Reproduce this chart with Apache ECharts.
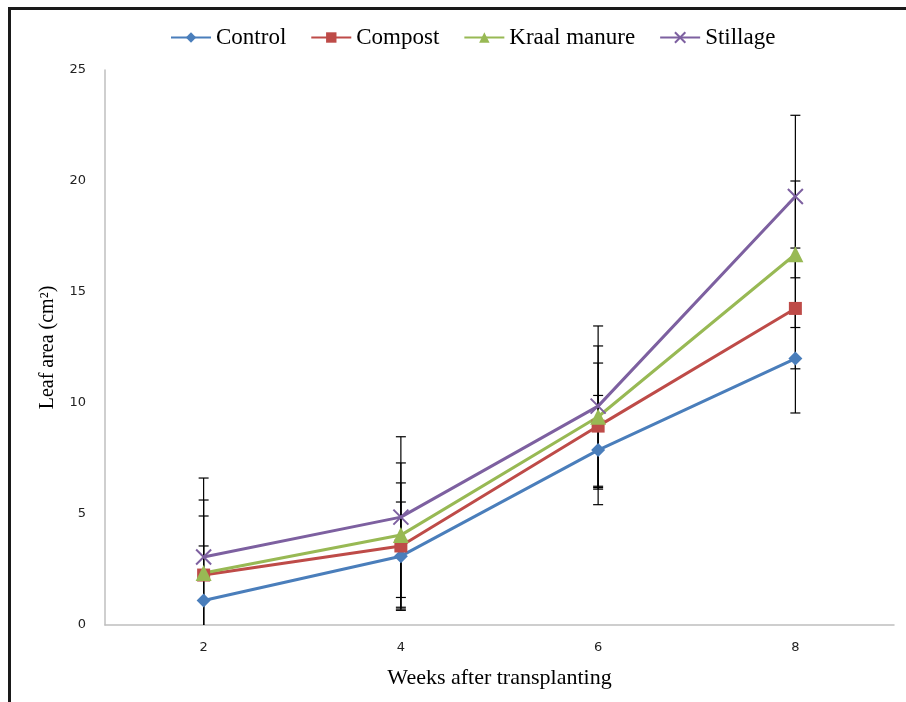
<!DOCTYPE html>
<html>
<head>
<meta charset="utf-8">
<script src="https://cdn.jsdelivr.net/npm/echarts@6/dist/echarts.min.js"></script>
<style>html,body{margin:0;padding:0;background:#fff;}#chart{width:906px;height:702px;}</style>
</head>
<body>
<div id="chart"></div>
<script>
var weeks = ['2', '4', '6', '8'];
var seriesNames = ['Control', 'Compost', 'Kraal manure', 'Stillage'];
var control = [1.1, 3.1, 7.88, 12.0];
var compost = [2.25, 3.56, 8.96, 14.26];
var kraal = [2.34, 4.05, 9.38, 16.7];
var stillage = [3.06, 4.86, 9.86, 19.3];
var controlErr = [2.46, 2.44, 2.46, 2.45];
var compostErr = [2.66, 2.84, 2.84, 2.72];
var kraalErr = [3.29, 3.25, 3.19, 3.3];
var stillageErr = [3.56, 3.62, 3.61, 3.66];
var yTicks = [0, 5, 10, 15, 20, 25];

var colors = ['#4A7EBB', '#BE4B48', '#98B954', '#7D60A0'];
var symbols = ['diamond', 'rect', 'triangle', 'path://M0,0 L10,10 M10,0 L0,10'];
var symbolSizes = [14, 13, 16, 15];
var means = [control, compost, kraal, stillage];
var errs = [controlErr, compostErr, kraalErr, stillageErr];

var YMIN = yTicks[0], YMAX = yTicks[yTicks.length - 1];

function errRender(params, api) {
  var x = api.value(0), lo = api.value(1), hi = api.value(2);
  var loC = Math.max(lo, YMIN), hiC = Math.min(hi, YMAX);
  var pHi = api.coord([x, hiC]);
  var pLo = api.coord([x, loC]);
  var cap = 5;
  var children = [{
    type: 'line', shape: {x1: pHi[0], y1: pHi[1], x2: pLo[0], y2: pLo[1]},
    style: {stroke: '#000', lineWidth: 1.2}
  }];
  if (hi <= YMAX) children.push({type: 'line', shape: {x1: pHi[0] - cap, y1: pHi[1], x2: pHi[0] + cap, y2: pHi[1]}, style: {stroke: '#000', lineWidth: 1.2}});
  if (lo >= YMIN) children.push({type: 'line', shape: {x1: pLo[0] - cap, y1: pLo[1], x2: pLo[0] + cap, y2: pLo[1]}, style: {stroke: '#000', lineWidth: 1.2}});
  return {type: 'group', children: children};
}

var series = [];
for (var s = 0; s < 4; s++) {
  var ed = [];
  for (var i = 0; i < weeks.length; i++) {
    ed.push([i, means[s][i] - errs[s][i], means[s][i] + errs[s][i]]);
  }
  series.push({
    type: 'custom', name: seriesNames[s] + ' err', renderItem: errRender,
    data: ed, z: 1, silent: true, clip: true, legendHoverLink: false,
    encode: {x: 0, y: [1, 2]}
  });
}
for (var s2 = 0; s2 < 4; s2++) {
  series.push({
    type: 'line', name: seriesNames[s2], data: means[s2], z: 5,
    symbol: symbols[s2], symbolSize: symbolSizes[s2], showAllSymbol: true,
    lineStyle: {color: colors[s2], width: 3},
    itemStyle: {color: colors[s2], borderColor: colors[s2], borderWidth: s2 === 3 ? 2 : 0},
    emphasis: {disabled: true},
    animation: false
  });
}

var chart = echarts.init(document.getElementById('chart'), null, {renderer: 'canvas'});
chart.setOption({
  animation: false,
  backgroundColor: '#fff',
  color: colors,
  legend: {
    data: seriesNames,
    top: 21, left: 165,
    itemWidth: 40, itemHeight: 13, itemGap: 24,
    textStyle: {fontFamily: 'Liberation Serif', fontSize: 23, color: '#000'}
  },
  grid: {left: 105, right: 12, top: 70, bottom: 77, containLabel: false},
  xAxis: {
    type: 'category', data: weeks, boundaryGap: true,
    name: 'Weeks after transplanting', nameLocation: 'middle', nameGap: 42,
    nameTextStyle: {fontFamily: 'Liberation Serif', fontSize: 22, color: '#000'},
    axisLine: {lineStyle: {color: '#BFBFBF', width: 1.5}},
    axisTick: {alignWithLabel: true, length: 5, lineStyle: {color: '#BFBFBF'}},
    axisLabel: {fontFamily: 'DejaVu Sans', fontSize: 13, color: '#222', margin: 16},
    splitLine: {show: false}
  },
  yAxis: {
    type: 'value', min: YMIN, max: YMAX, interval: 5,
    name: 'Leaf area (cm²)', nameLocation: 'middle', nameGap: 47,
    nameTextStyle: {fontFamily: 'Liberation Serif', fontSize: 20, color: '#000'},
    axisLine: {show: true, lineStyle: {color: '#BFBFBF', width: 1.5}},
    axisTick: {show: false},
    axisLabel: {fontFamily: 'DejaVu Sans', fontSize: 13, color: '#222', margin: 19},
    splitLine: {show: false}
  },
  graphic: [{
    type: 'polyline', silent: true,
    shape: {points: [[9.5, 702], [9.5, 8.5], [906, 8.5]]},
    style: {stroke: '#1a1a1a', lineWidth: 3, fill: null}
  }],
  series: series
});
</script>
</body>
</html>
